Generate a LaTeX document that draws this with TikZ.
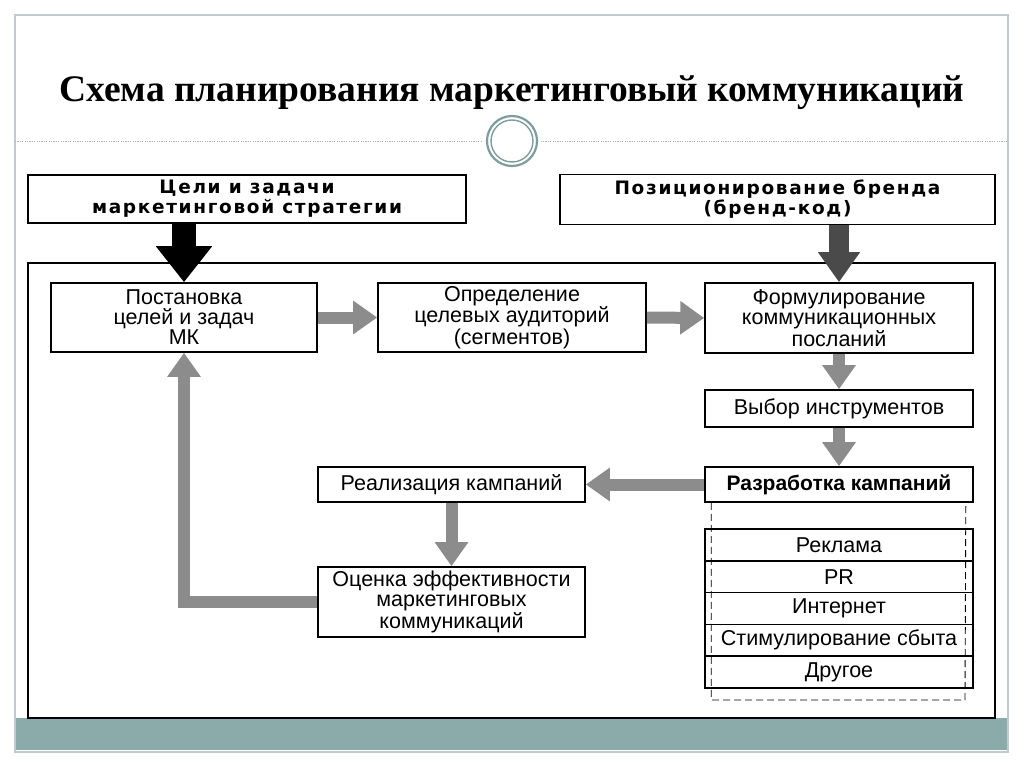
\documentclass[tikz,border=0pt]{standalone}
\usepackage{fontspec}
\setmainfont{Liberation Serif}
\newfontfamily\dia{Liberation Sans}
\newfontfamily\diawide[LetterSpace=9]{DejaVu Sans}
\usetikzlibrary{arrows.meta}
\definecolor{framecol}{HTML}{BFCBD1}
\definecolor{bandcol}{HTML}{8BABAB}
\definecolor{ringcol}{HTML}{7D9C9E}
\definecolor{arrgray}{HTML}{8C8C8C}
\definecolor{darkarr}{HTML}{4A4A4A}
\definecolor{dotcol}{HTML}{A9B4BA}
\tikzset{
  box/.style={draw=black, line width=1.6pt, fill=white, align=center, inner sep=0pt,
    font=\dia\fontsize{21.5}{20}\selectfont},
  headbox/.style={draw=black, line width=1.8pt, fill=white, align=center, inner sep=0pt,
    font=\diawide\bfseries\fontsize{18.5}{20}\selectfont},
  rowbox/.style={draw=black, line width=1.6pt, fill=white, align=center, inner sep=0pt,
    outer sep=0pt, minimum width=268pt, minimum height=31.8pt, anchor=north,
    font=\dia\fontsize{21.5}{20}\selectfont},
  garrow/.style={draw=arrgray, line width=12pt, -{Triangle[width=32pt,length=24pt]}},
  darkarrow/.style={draw=darkarr, line width=20pt, -{Triangle[width=40pt,length=30pt]}},
  blackarrow/.style={draw=black, line width=24pt, -{Triangle[width=54pt,length=36pt]}},
  dashline/.style={draw=black, line width=0.9pt, dash pattern=on 7pt off 4pt},
}
\begin{document}
\begin{tikzpicture}[x=1pt,y=-1pt]
\useasboundingbox (0,0) rectangle (1024,767);
% slide frame
\fill[white] (0,0) rectangle (1024,767);
\fill[bandcol] (15,718) rectangle (1008,750);
\draw[framecol, line width=1.2pt] (15,15) rectangle (1008,752);
\draw[dotcol, line width=0.8pt, dash pattern=on 1.2pt off 1.2pt] (15,141) -- (1008,141);
\fill[white] (512,141) circle (29);
\draw[ringcol, line width=2.2pt, fill=white] (512,141) circle (25);
\draw[ringcol, line width=1.4pt] (512,141) circle (21);
% title
\node[font=\bfseries\fontsize{37.5}{40}\selectfont] (title) at (512,93) {Схема планирования маркетинговый коммуникаций};
% outer frame of diagram
\draw[black, line width=1.8pt] (28,263) rectangle (995,718);
% top boxes
\node[headbox, minimum width=438pt, minimum height=48pt] (tl) at (247,199) {Цели и задачи\\маркетинговой стратегии};
\node[headbox, minimum width=435pt, minimum height=50pt] (tr) at (777.5,199.5) {Позиционирование бренда\\(бренд-код)};
% main boxes
\node[box, minimum width=266pt, minimum height=69pt] (post) at (184,317.5) {Постановка\\целей и задач\\МК};
\node[box, minimum width=268pt, minimum height=69pt] (opr) at (512,317.5) {Определение\\целевых аудиторий\\(сегментов)};
\node[box, minimum width=268pt, minimum height=70pt] (form) at (839,318) {Формулирование\\коммуникационных\\посланий};
\node[box, minimum width=268pt, minimum height=37pt] (vybor) at (839,408.5) {Выбор инструментов};
\node[box, minimum width=268pt, minimum height=35pt, font=\dia\bfseries\fontsize{21}{20}\selectfont] (razr) at (839,484.5) {Разработка кампаний};
\node[box, minimum width=267pt, minimum height=35pt] (real) at (451.5,484.5) {Реализация кампаний};
\node[box, minimum width=267pt, minimum height=70pt] (eval) at (451.5,602) {Оценка эффективности\\маркетинговых\\коммуникаций};
% list of instruments
\node[rowbox] (r1) at (839,529) {Реклама};
\node[rowbox] (r2) at (r1.south) {PR};
\node[rowbox] (r3) at (r2.south) {Интернет};
\node[rowbox] (r4) at (r3.south) {Стимулирование сбыта};
\node[rowbox] (r5) at (r4.south) {Другое};
\draw[dashline] ([xshift=7pt]razr.south west) |- ([xshift=-8pt,yshift=-12pt]r5.south east) -- ([xshift=-8pt]razr.south east);
% arrows
\draw[blackarrow] (tl.south -| post.north) -- (post.north);
\draw[darkarrow] (tr.south -| form.north) -- (form.north);
\draw[garrow] (post.east) -- (opr.west);
\draw[garrow] (opr.east) -- (form.west);
\draw[garrow] (form.south) -- (vybor.north);
\draw[garrow] (vybor.south) -- (razr.north);
\draw[garrow] (razr.west) -- (real.east);
\draw[garrow] (real.south) -- (eval.north);
\draw[garrow, line join=miter] (eval.west) -| (post.south);
\end{tikzpicture}
\end{document}
